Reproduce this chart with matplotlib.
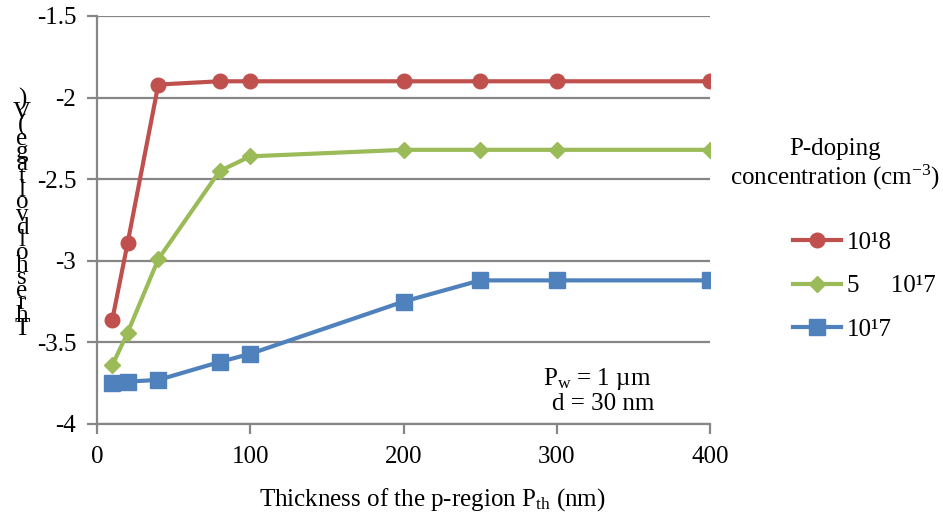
import numpy as np
import matplotlib
matplotlib.use('Agg')
import matplotlib.pyplot as plt

plt.rcParams['font.family'] = ['Liberation Serif', 'DejaVu Serif']
plt.rcParams['mathtext.fontset'] = 'custom'
plt.rcParams['mathtext.rm'] = 'Liberation Serif'
plt.rcParams['mathtext.it'] = 'Liberation Serif:italic'
plt.rcParams['axes.unicode_minus'] = False

# thickness of p-region (nm)
thickness = [10, 20, 40, 80, 100, 200, 250, 300, 400]

# threshold voltage (V) for each doping level
vth_1e18 = [-3.36, -2.89, -1.92, -1.90, -1.90, -1.90, -1.90, -1.90, -1.90]
vth_5e17 = [-3.64, -3.44, -2.99, -2.45, -2.36, -2.32, -2.32, -2.32, -2.32]
vth_1e17 = [-3.75, -3.74, -3.73, -3.62, -3.57, -3.25, -3.12, -3.12, -3.12]

labels = ['10\u00b98', '5     10\u00b97', '10\u00b97']
yticks = [-4, -3.5, -3, -2.5, -2, -1.5]
xticks = [0, 100, 200, 300, 400]

gray = '#868686'
fs = 18

fig = plt.figure(figsize=(9.43, 5.23), dpi=100)
ax = fig.add_axes([97/943, 1 - 424/523, (710-97)/943, (424-16)/523])

ax.plot(thickness, vth_1e18, color='#C0504D', lw=3, marker='o', ms=10.5, label=labels[0])
ax.plot(thickness, vth_5e17, color='#9BBB59', lw=3, marker='D', ms=8, label=labels[1])
ax.plot(thickness, vth_1e17, color='#4F81BD', lw=3, marker='s', ms=11, label=labels[2])

ax.set_xlim(0, 400)
ax.set_ylim(-4, -1.5)
ax.set_xticks(xticks)
ax.set_yticks(yticks)
ax.set_yticklabels(['%g' % v for v in yticks])
ax.grid(axis='y', color=gray, lw=1.6)
ax.set_axisbelow(True)
for s in ['top', 'right']:
    ax.spines[s].set_visible(False)
for s in ['left', 'bottom']:
    ax.spines[s].set_color(gray)
    ax.spines[s].set_linewidth(1.6)
ax.tick_params(axis='both', colors=gray, labelcolor='black', labelsize=fs,
               direction='out', length=7, width=1.6)
ax.tick_params(axis='y', pad=8)
ax.tick_params(axis='x', pad=9)

fig.text(432/943, 1 - 500/523, 'Thickness of the p-region P$_{\\mathrm{th}}$ (nm)',
         ha='center', va='center', fontsize=fs)

# y label, characters stacked upright
ylab = 'Threshold voltage (V)'
fig.text(22/943, 1 - 214/523, '\n'.join(reversed(ylab.replace(' ', ''))),
         ha='center', va='center', fontsize=fs, linespacing=0.45)

ax.text(291, -3.725, 'P$_{\\mathrm{w}}$ = 1 \u00b5m', fontsize=fs, ha='left', va='center')
ax.text(297, -3.88, 'd = 30 nm', fontsize=fs, ha='left', va='center')

fig.text(835/943, 1 - 165/523, 'P-doping\nconcentration (cm$^{-3}$)',
         ha='center', va='center', fontsize=fs, linespacing=1.1)

leg = fig.legend(loc='upper left', bbox_to_anchor=(793/943, 1 - 231/523),
                 frameon=False, fontsize=fs, handlelength=1.9,
                 labelspacing=0.85, handletextpad=0.25,
                 borderpad=0, borderaxespad=0)

fig.savefig('out.png', dpi=100)
